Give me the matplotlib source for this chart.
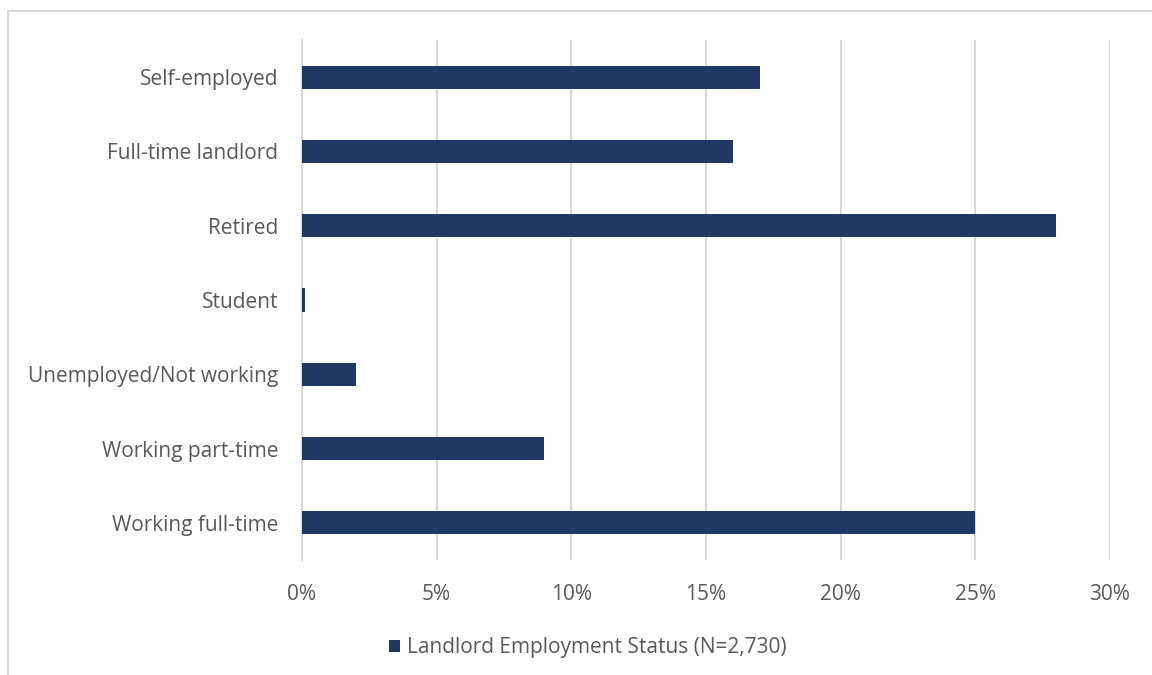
import matplotlib.pyplot as plt
from matplotlib.lines import Line2D
from matplotlib.patches import Patch
from matplotlib.ticker import FuncFormatter, MultipleLocator

categories = ["Self-employed", "Full-time landlord", "Retired", "Student",
              "Unemployed/Not working", "Working part-time", "Working full-time"]
values = [17, 16, 28, 0.1, 2, 9, 25]
series_name = "Landlord Employment Status (N=2,730)"

bar_color = "#203864"
text_color = "#595959"
grid_color = "#d9d9d9"

plt.rcParams["font.family"] = ["Open Sans", "DejaVu Sans"]
FS = 15

fig = plt.figure(figsize=(11.52, 6.75), dpi=100)
ax = fig.add_axes([302 / 1152, 1 - 560 / 675, (1110 - 302) / 1152, (560 - 40) / 675])

ypos = list(range(len(categories)))[::-1]
ax.barh(ypos, values, height=0.31, color=bar_color, zorder=3)

ax.set_xlim(0, 30)
ax.set_ylim(-0.5, len(categories) - 0.5)
ax.xaxis.set_major_locator(MultipleLocator(5))
ax.xaxis.set_major_formatter(FuncFormatter(lambda v, _: f"{v:.0f}%"))
ax.set_yticks(ypos)
ax.set_yticklabels(categories)

ax.grid(axis="x", color=grid_color, linewidth=1.5, zorder=0)
for side in ["top", "right", "bottom"]:
    ax.spines[side].set_visible(False)
ax.spines["left"].set_color(grid_color)
ax.spines["left"].set_linewidth(1.5)
ax.tick_params(axis="both", length=0, labelsize=FS, labelcolor=text_color)
ax.tick_params(axis="x", pad=17)
ax.tick_params(axis="y", pad=17)

handle = Patch(facecolor=bar_color, edgecolor="none")
fig.legend([handle], [series_name], loc="center", bbox_to_anchor=(588 / 1152, 1 - 648 / 675),
           frameon=False, fontsize=FS, labelcolor=text_color, handlelength=0.5,
           handleheight=0.5, handletextpad=0.35)

# chart frame edges (left and top)
fig.add_artist(Line2D([7.5 / 1152, 7.5 / 1152], [0, 1 - 11 / 675], transform=fig.transFigure,
                      color=grid_color, linewidth=1.5))
fig.add_artist(Line2D([7.5 / 1152, 1], [1 - 11 / 675, 1 - 11 / 675], transform=fig.transFigure,
                      color=grid_color, linewidth=1.5))

fig.savefig("out.png", dpi=100)
